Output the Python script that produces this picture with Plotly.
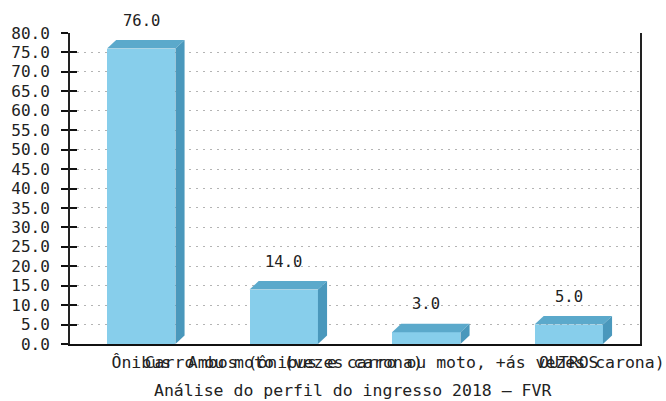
import plotly.graph_objects as go

# Perfil de transporte dos ingressantes 2018
categorias = ["Ônibus",
              "Carro ou moto (vezes carona)",
              "Ambos (ônibus e carro ou moto, +ás vezes carona)",
              "OUTROS"]
valores = [76.0, 14.0, 3.0, 5.0]
titulo = "Análise do perfil do ingresso 2018 – FVR"

FONTE = "DejaVu Sans Mono"
COR_FRENTE = "#87CEEB"
COR_TOPO = "#5BA9CB"
COR_LADO = "#4A98BC"

largura = 0.48      # largura da face frontal (unidades de categoria)
prof_x = 0.064      # deslocamento da profundidade em x
prof_y = 2.2        # deslocamento da profundidade em y

xs = list(range(len(categorias)))

fig = go.Figure()

# faces frontais
fig.add_trace(go.Bar(x=xs, y=valores, width=largura, marker=dict(color=COR_FRENTE, line=dict(width=0)),
                     hoverinfo="skip", showlegend=False))

# faces de topo e laterais, calculadas a partir dos valores
for x, v in zip(xs, valores):
    x0, x1 = x - largura / 2, x + largura / 2
    fig.add_trace(go.Scatter(
        x=[x0, x1, x1 + prof_x, x0 + prof_x, x0],
        y=[v, v, v + prof_y, v + prof_y, v],
        fill="toself", fillcolor=COR_TOPO, mode="lines", line=dict(width=0),
        hoverinfo="skip", showlegend=False))
    fig.add_trace(go.Scatter(
        x=[x1, x1 + prof_x, x1 + prof_x, x1, x1],
        y=[0, prof_y, v + prof_y, v, 0],
        fill="toself", fillcolor=COR_LADO, mode="lines", line=dict(width=0),
        hoverinfo="skip", showlegend=False))

# rótulos de valor acima das barras
for x, v in zip(xs, valores):
    fig.add_annotation(x=x, y=v, text=f"{v:.1f}", showarrow=False, yanchor="middle",
                       yshift=28, font=dict(family=FONTE, size=15.5, color="#222"))

fig.add_annotation(x=0.495, y=-0.148, xref="paper", yref="paper", text=titulo,
                   showarrow=False, yanchor="middle",
                   font=dict(family=FONTE, size=16.5, color="#222"))

fig.update_layout(
    width=666, height=401,
    margin=dict(l=70, r=26, t=33, b=57),
    paper_bgcolor="white", plot_bgcolor="white",
    font=dict(family=FONTE, size=16, color="#222"),
    bargap=0,
    xaxis=dict(range=[-0.5, 3.5], tickvals=xs, ticktext=categorias, tickangle=0,
               automargin=False,
               showgrid=False, zeroline=False, showline=True, linecolor="#111",
               linewidth=2, ticks="", ticklabelstandoff=2,
               tickfont=dict(family=FONTE, size=16.5, color="#222")),
    yaxis=dict(range=[0, 80], dtick=5, tickformat=".1f", showgrid=True,
               automargin=False,
               gridcolor="#b4b4b4", griddash="2px,5px", gridwidth=1, zeroline=False,
               showline=True, mirror=True, linecolor="#222", linewidth=2,
               ticks="outside", ticklen=7, tickcolor="#111", tickwidth=2,
               ticklabelstandoff=8,
               tickfont=dict(family=FONTE, size=16, color="#222")),
    yaxis2=dict(range=[0, 80], dtick=5, overlaying="y", side="left",
                automargin=False,
                showgrid=False, zeroline=False, showticklabels=False,
                ticks="inside", ticklen=7, tickcolor="#111", tickwidth=2),
)

# eixo auxiliar só para as marcas internas das escalas
fig.add_trace(go.Scatter(x=[None], y=[None], yaxis="y2", showlegend=False, hoverinfo="skip"))

fig.write_html("out.html")
